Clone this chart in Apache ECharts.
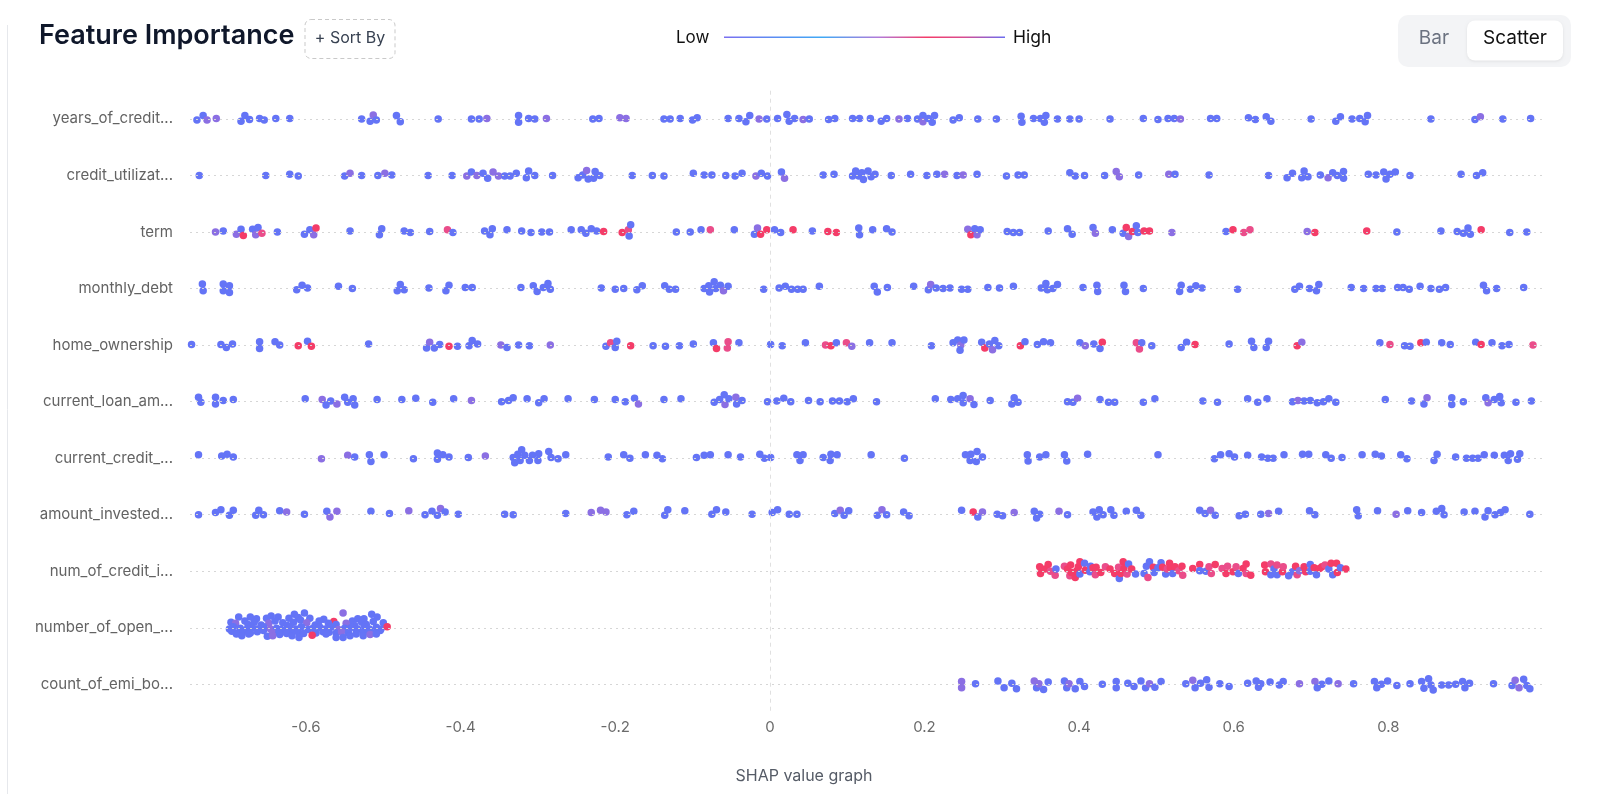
<!DOCTYPE html>
<html><head><meta charset="utf-8">
<script src="https://cdn.jsdelivr.net/npm/echarts@6/dist/echarts.min.js"></script>
<style>html,body{margin:0;padding:0;background:#fff;}#chart{width:1600px;height:794px;}</style>
</head><body><div id="chart"></div>
<script>
// Feature names as shown (truncated) on the y axis, top to bottom
const features = ['years_of_credit...','credit_utilizat...','term','monthly_debt','home_ownership','current_loan_am...','current_credit_...','amount_invested...','num_of_credit_i...','number_of_open_...','count_of_emi_bo...'];
const xTicks = [-0.6,-0.4,-0.2,0,0.2,0.4,0.6,0.8];
// each point: [SHAP value, vertical swarm offset (rows), feature level 0=low,1=mid,2=high-ish,3=high]
const yearsOfCredit = [[-0.741,0.02,0],[-0.733,-0.06,0],[-0.728,0.02,1],[-0.716,-0.01,1],[-0.684,0.04,0],[-0.679,-0.06,0],[-0.673,0.01,0],[-0.660,-0.01,0],[-0.654,0.02,0],[-0.639,-0.01,0],[-0.621,-0.01,0],[-0.528,0,0],[-0.517,0.04,0],[-0.513,-0.07,1],[-0.509,0.02,0],[-0.483,-0.06,0],[-0.478,0.05,0],[-0.429,0,0],[-0.386,0,0],[-0.376,0,0],[-0.366,-0.01,1],[-0.325,-0.06,0],[-0.325,0.06,0],[-0.312,-0.01,0],[-0.304,0,0],[-0.289,-0.01,1],[-0.229,0,0],[-0.221,-0.01,0],[-0.194,-0.02,1],[-0.186,-0.01,1],[-0.137,0,0],[-0.129,0,0],[-0.116,-0.01,0],[-0.100,0.02,0],[-0.094,-0.02,0],[-0.054,-0.01,0],[-0.040,-0.01,0],[-0.031,0.05,0],[-0.026,-0.06,0],[-0.014,0,1],[-0.004,0,0],[0.010,-0.01,0],[0.022,-0.08,0],[0.025,0.04,0],[0.032,-0.01,0],[0.043,0.01,1],[0.051,0,0],[0.076,0.01,0],[0.084,-0.01,0],[0.107,-0.01,0],[0.116,-0.01,0],[0.130,-0.01,0],[0.144,0.04,0],[0.151,-0.01,0],[0.167,0,1],[0.178,-0.01,0],[0.191,0,0],[0.198,-0.06,0],[0.198,0.05,1],[0.205,-0.01,0],[0.210,0.06,0],[0.213,-0.06,0],[0.237,0.02,0],[0.245,-0.02,0],[0.269,0,0],[0.293,0,0],[0.325,-0.05,0],[0.326,0.06,0],[0.341,-0.01,0],[0.350,-0.01,0],[0.355,0.06,0],[0.357,-0.06,0],[0.372,0,0],[0.388,0,0],[0.400,0,0],[0.440,0,0],[0.483,-0.01,0],[0.502,0.01,0],[0.515,-0.01,0],[0.523,-0.01,0],[0.531,0,1],[0.570,-0.01,0],[0.578,-0.01,0],[0.619,-0.02,0],[0.628,0.01,0],[0.642,-0.04,0],[0.648,0.04,0],[0.700,0,0],[0.732,0.04,0],[0.738,-0.04,0],[0.753,0,0],[0.763,-0.01,0],[0.770,0.05,0],[0.773,-0.06,0],[0.855,0,0],[0.912,0.01,0],[0.919,-0.04,1],[0.948,0,0],[0.984,-0.01,0]];
const creditUtilization = [[-0.738,0,0],[-0.652,0,0],[-0.621,-0.02,0],[-0.610,0.01,0],[-0.550,0.01,0],[-0.543,-0.04,1],[-0.528,0,0],[-0.507,0,0],[-0.498,-0.04,1],[-0.489,-0.01,0],[-0.442,0,0],[-0.411,0,0],[-0.392,0.01,1],[-0.386,-0.06,0],[-0.379,0,1],[-0.371,-0.04,0],[-0.365,0.05,0],[-0.358,-0.06,1],[-0.351,0.01,1],[-0.343,0.01,0],[-0.336,0.01,0],[-0.328,-0.04,0],[-0.315,0.04,0],[-0.312,-0.08,0],[-0.304,0,0],[-0.281,0,0],[-0.248,0.04,0],[-0.242,-0.01,0],[-0.237,-0.09,1],[-0.235,0.06,0],[-0.228,0.05,0],[-0.226,-0.07,0],[-0.220,0,0],[-0.178,0,0],[-0.152,0,0],[-0.137,0.01,0],[-0.099,-0.04,0],[-0.085,-0.01,0],[-0.075,-0.01,0],[-0.057,0,0],[-0.045,0.01,0],[-0.036,-0.04,0],[-0.018,0.01,1],[-0.011,-0.04,0],[-0.003,0.01,0],[0.015,-0.06,0],[0.019,0.05,1],[0.069,-0.01,0],[0.083,-0.02,0],[0.107,0.01,0],[0.111,-0.08,0],[0.115,0.01,0],[0.119,-0.05,0],[0.121,0.07,0],[0.127,-0.08,0],[0.131,0.02,0],[0.136,-0.02,0],[0.157,0,0],[0.182,-0.02,0],[0.203,0,0],[0.216,-0.02,0],[0.226,-0.02,1],[0.242,0,0],[0.250,-0.01,1],[0.268,-0.02,0],[0.306,0.01,0],[0.321,-0.01,0],[0.329,-0.01,0],[0.388,-0.05,0],[0.395,0.01,0],[0.407,0,0],[0.433,0,0],[0.448,-0.07,1],[0.452,0.02,1],[0.477,-0.01,0],[0.516,-0.02,1],[0.524,-0.02,0],[0.568,-0.01,0],[0.645,0,0],[0.669,0.04,0],[0.676,-0.04,0],[0.688,0.04,0],[0.691,-0.08,0],[0.696,0.02,0],[0.712,-0.01,0],[0.722,0.04,1],[0.728,-0.05,0],[0.734,0,0],[0.742,-0.07,0],[0.742,0.05,0],[0.774,-0.02,0],[0.784,-0.01,0],[0.794,-0.06,0],[0.797,0.06,0],[0.802,-0.02,0],[0.809,-0.06,0],[0.828,0,0],[0.894,-0.02,0],[0.914,0,0],[0.922,-0.05,0]];
const term = [[-0.717,0,1],[-0.707,-0.02,0],[-0.690,0.04,1],[-0.684,-0.05,0],[-0.681,0.06,3],[-0.669,-0.05,0],[-0.665,0.05,1],[-0.662,-0.08,0],[-0.657,0.02,2],[-0.637,0,0],[-0.602,0.04,0],[-0.595,-0.04,0],[-0.590,0.05,1],[-0.587,-0.07,3],[-0.543,-0.02,0],[-0.505,0.05,0],[-0.502,-0.06,0],[-0.473,-0.02,0],[-0.465,0.01,0],[-0.440,-0.01,0],[-0.417,-0.04,2],[-0.410,0.01,0],[-0.369,-0.02,0],[-0.362,0.05,0],[-0.359,-0.06,0],[-0.340,-0.04,0],[-0.321,-0.02,0],[-0.309,0.01,0],[-0.295,0,0],[-0.285,0,0],[-0.257,-0.04,0],[-0.244,-0.04,0],[-0.238,0.02,0],[-0.231,-0.06,0],[-0.224,-0.02,0],[-0.215,-0.01,3],[-0.191,0.01,3],[-0.183,-0.04,2],[-0.182,0.07,0],[-0.180,-0.13,0],[-0.121,0,0],[-0.103,0,0],[-0.089,-0.04,0],[-0.077,-0.04,2],[-0.046,-0.04,0],[-0.020,0.04,0],[-0.016,-0.07,1],[-0.012,0.04,3],[-0.004,-0.04,3],[0.006,-0.04,0],[0.014,0.01,0],[0.030,-0.04,3],[0.055,-0.02,0],[0.075,-0.01,3],[0.086,0.01,3],[0.115,-0.07,0],[0.116,0.05,0],[0.133,-0.04,0],[0.151,-0.06,0],[0.158,0,0],[0.256,-0.05,1],[0.260,0.05,3],[0.265,-0.06,0],[0.268,0.05,1],[0.272,-0.04,0],[0.307,-0.01,0],[0.315,0.01,0],[0.323,0.01,0],[0.360,-0.02,0],[0.385,-0.06,0],[0.391,0.04,0],[0.418,-0.08,0],[0.421,0.02,1],[0.443,-0.04,0],[0.457,0.02,0],[0.461,-0.08,3],[0.464,0.08,1],[0.469,-0.01,3],[0.474,-0.11,0],[0.476,0.01,0],[0.484,-0.02,3],[0.491,-0.02,3],[0.520,0.01,1],[0.590,-0.01,0],[0.599,-0.04,3],[0.613,0.01,2],[0.621,-0.04,2],[0.695,-0.01,1],[0.705,0.01,3],[0.772,-0.02,3],[0.811,0,0],[0.868,-0.02,0],[0.889,-0.01,0],[0.897,0.02,0],[0.903,-0.07,0],[0.906,0.04,0],[0.920,-0.04,3],[0.957,0.01,0],[0.979,0,0]];
const monthlyDebt = [[-0.734,-0.08,0],[-0.733,0.04,0],[-0.707,-0.08,0],[-0.707,0.04,0],[-0.699,-0.05,0],[-0.699,0.07,0],[-0.612,0.02,0],[-0.605,-0.06,0],[-0.598,-0.01,0],[-0.558,-0.04,0],[-0.540,0,0],[-0.482,0.04,0],[-0.478,-0.07,0],[-0.473,0.02,0],[-0.441,-0.01,0],[-0.419,0.04,0],[-0.415,-0.06,0],[-0.394,-0.02,0],[-0.385,-0.02,0],[-0.322,-0.02,0],[-0.306,-0.05,0],[-0.301,0.05,0],[-0.293,-0.02,0],[-0.287,-0.09,0],[-0.284,0.01,0],[-0.218,-0.01,0],[-0.200,0.01,0],[-0.189,0,0],[-0.172,0.02,0],[-0.165,-0.05,0],[-0.136,-0.05,0],[-0.130,0.01,0],[-0.122,0.01,0],[-0.085,0,0],[-0.079,-0.05,0],[-0.078,0.06,0],[-0.072,-0.12,0],[-0.070,0,0],[-0.064,-0.06,0],[-0.060,0.04,1],[-0.054,-0.04,0],[-0.008,0.01,0],[0.012,-0.01,0],[0.020,-0.04,0],[0.028,0.01,0],[0.036,0.01,0],[0.043,0.01,0],[0.064,-0.04,0],[0.135,-0.04,0],[0.139,0.06,0],[0.152,-0.02,0],[0.186,-0.04,0],[0.205,0.02,0],[0.208,-0.07,1],[0.215,-0.01,0],[0.224,0,0],[0.233,-0.01,0],[0.248,0.01,0],[0.256,0.01,0],[0.282,-0.02,0],[0.297,-0.01,0],[0.315,-0.04,0],[0.351,-0.01,0],[0.357,-0.09,0],[0.359,0.02,0],[0.366,0,0],[0.372,-0.07,0],[0.405,-0.02,0],[0.423,-0.06,0],[0.424,0.05,0],[0.458,-0.06,0],[0.460,0.05,0],[0.483,0,0],[0.530,0.05,0],[0.532,-0.06,0],[0.544,0.01,0],[0.551,-0.05,0],[0.559,-0.01,0],[0.605,0.01,0],[0.679,0.01,0],[0.685,-0.04,0],[0.698,0,0],[0.707,0.04,0],[0.710,-0.07,0],[0.752,-0.02,0],[0.768,0,0],[0.784,0,0],[0.792,0,0],[0.812,-0.02,0],[0.819,-0.02,0],[0.827,0.01,0],[0.841,-0.04,0],[0.855,0,0],[0.866,0.01,0],[0.874,-0.02,0],[0.923,-0.06,0],[0.927,0.04,0],[0.940,0,0],[0.975,-0.02,0]];
const homeOwnership = [[-0.748,-0.01,0],[-0.710,-0.01,0],[-0.703,0.04,0],[-0.695,-0.02,0],[-0.660,-0.06,0],[-0.660,0.06,0],[-0.640,-0.06,0],[-0.634,0,0],[-0.610,0.01,3],[-0.598,-0.07,0],[-0.593,0.02,3],[-0.519,-0.02,0],[-0.444,0.05,0],[-0.440,-0.05,1],[-0.434,0.05,0],[-0.427,-0.01,0],[-0.415,0.02,3],[-0.404,0.02,0],[-0.389,0.01,0],[-0.385,-0.08,0],[-0.378,-0.02,0],[-0.348,0,1],[-0.340,0.04,0],[-0.325,0,0],[-0.311,0.01,0],[-0.284,0,1],[-0.212,0.02,0],[-0.206,-0.04,2],[-0.198,-0.07,0],[-0.200,0.04,0],[-0.180,0.01,3],[-0.151,0.01,0],[-0.135,0.02,0],[-0.117,0.01,0],[-0.099,-0.02,0],[-0.073,-0.04,0],[-0.069,0.06,3],[-0.055,0.05,2],[-0.054,-0.06,2],[-0.040,-0.04,0],[0.001,-0.01,0],[0.016,0.01,0],[0.046,-0.04,0],[0.072,0,2],[0.079,0.01,3],[0.086,-0.04,0],[0.099,-0.04,2],[0.106,0.02,1],[0.129,-0.04,0],[0.158,-0.04,0],[0.209,0.01,0],[0.237,-0.04,0],[0.243,-0.09,0],[0.247,0,1],[0.246,0.09,0],[0.251,-0.09,0],[0.274,-0.05,0],[0.278,0.05,3],[0.284,-0.02,0],[0.288,0.08,1],[0.291,-0.08,0],[0.296,0.01,0],[0.324,0.01,3],[0.330,-0.06,0],[0.346,-0.01,0],[0.354,-0.06,0],[0.363,-0.04,0],[0.401,-0.04,0],[0.408,0.01,1],[0.419,-0.02,0],[0.427,0.06,0],[0.430,-0.05,3],[0.474,-0.04,2],[0.478,0.07,2],[0.481,-0.04,0],[0.494,0.01,0],[0.532,0.04,0],[0.539,-0.05,0],[0.550,-0.01,3],[0.594,-0.02,0],[0.623,-0.07,0],[0.626,0.04,0],[0.642,0.04,0],[0.645,-0.07,0],[0.682,0.01,3],[0.688,-0.05,1],[0.789,-0.04,0],[0.802,-0.01,2],[0.821,0.01,0],[0.828,0.02,0],[0.842,-0.04,3],[0.849,-0.05,0],[0.869,-0.04,0],[0.880,-0.01,0],[0.913,-0.05,0],[0.920,-0.01,3],[0.934,-0.04,0],[0.947,0.01,0],[0.956,-0.01,0],[0.987,0,2]];
const currentLoanAmount = [[-0.739,-0.08,0],[-0.736,0.01,0],[-0.717,-0.08,0],[-0.717,0.04,0],[-0.707,-0.02,0],[-0.694,-0.04,0],[-0.601,-0.05,0],[-0.579,-0.04,1],[-0.574,0.06,0],[-0.568,-0.01,0],[-0.560,0.04,1],[-0.550,-0.08,0],[-0.546,0.01,0],[-0.539,-0.05,0],[-0.537,0.06,0],[-0.508,-0.04,0],[-0.476,-0.04,0],[-0.458,-0.06,0],[-0.436,0.01,0],[-0.409,-0.05,0],[-0.386,-0.02,1],[-0.347,0,0],[-0.338,-0.02,0],[-0.332,-0.07,0],[-0.314,-0.05,0],[-0.299,0.02,0],[-0.292,-0.05,0],[-0.261,-0.05,0],[-0.227,-0.04,0],[-0.200,-0.04,0],[-0.187,0,0],[-0.175,-0.06,0],[-0.170,0.04,1],[-0.137,-0.04,0],[-0.115,-0.05,0],[-0.072,0.01,0],[-0.065,-0.04,0],[-0.059,-0.12,0],[-0.058,0.05,1],[-0.053,-0.05,0],[-0.044,-0.08,1],[-0.043,0.04,0],[-0.036,-0.02,0],[-0.003,0,0],[0.009,-0.01,0],[0.018,-0.06,0],[0.027,0,0],[0.050,-0.02,0],[0.065,0,0],[0.081,-0.01,0],[0.090,-0.01,0],[0.100,0,0],[0.108,-0.05,0],[0.138,0,0],[0.214,-0.05,0],[0.234,-0.04,0],[0.243,-0.05,0],[0.250,-0.11,0],[0.250,0.02,0],[0.259,-0.05,1],[0.264,0.05,0],[0.285,-0.02,0],[0.316,-0.07,0],[0.313,0.04,0],[0.321,0.01,0],[0.385,0,0],[0.392,0.01,0],[0.398,-0.06,1],[0.427,-0.04,0],[0.438,0.01,0],[0.446,0.01,0],[0.483,0.01,0],[0.498,-0.05,0],[0.560,-0.01,0],[0.579,0.01,0],[0.618,-0.05,0],[0.631,0.01,0],[0.643,-0.05,0],[0.676,0,0],[0.683,-0.02,1],[0.691,-0.01,0],[0.699,-0.02,0],[0.708,0.02,0],[0.716,0,0],[0.723,-0.05,0],[0.732,0.01,0],[0.796,-0.04,0],[0.830,-0.01,0],[0.846,0.04,0],[0.850,-0.07,1],[0.882,-0.07,0],[0.882,0.05,0],[0.897,0,0],[0.926,-0.07,0],[0.929,0.02,1],[0.937,-0.04,0],[0.944,-0.09,0],[0.946,0.02,0],[0.965,0.01,0],[0.985,-0.01,0]];
const currentCreditBalance = [[-0.739,-0.06,0],[-0.709,-0.04,0],[-0.702,-0.07,0],[-0.694,-0.02,0],[-0.580,0.01,1],[-0.546,-0.05,1],[-0.537,-0.02,0],[-0.518,-0.06,0],[-0.516,0.06,0],[-0.499,-0.06,0],[-0.461,0.01,0],[-0.430,-0.09,0],[-0.430,0.02,0],[-0.423,-0.06,0],[-0.415,-0.02,0],[-0.390,-0.01,0],[-0.368,-0.04,1],[-0.332,-0.01,0],[-0.330,0.08,0],[-0.326,-0.07,0],[-0.323,0.04,0],[-0.321,-0.15,0],[-0.317,-0.05,0],[-0.311,0.04,0],[-0.307,-0.05,0],[-0.300,0.04,0],[-0.299,-0.08,0],[-0.286,-0.12,0],[-0.283,-0.01,0],[-0.274,0.01,0],[-0.264,-0.06,0],[-0.209,-0.02,0],[-0.189,-0.06,0],[-0.181,0,0],[-0.161,-0.06,0],[-0.146,-0.05,0],[-0.139,0.01,0],[-0.095,-0.01,0],[-0.085,-0.05,0],[-0.077,-0.06,0],[-0.054,-0.06,0],[-0.038,-0.02,0],[-0.013,-0.07,0],[-0.007,0,0],[0.001,-0.01,0],[0.035,-0.06,0],[0.039,0.04,0],[0.043,-0.06,0],[0.069,-0.01,0],[0.078,0.04,0],[0.079,-0.07,0],[0.087,-0.06,0],[0.131,-0.06,0],[0.174,0,0],[0.253,-0.06,0],[0.260,-0.07,0],[0.259,0.04,0],[0.267,0.06,0],[0.268,-0.12,0],[0.275,-0.02,0],[0.333,-0.06,0],[0.334,0.05,0],[0.349,-0.02,0],[0.357,-0.06,0],[0.381,-0.06,0],[0.384,0.05,0],[0.411,-0.07,0],[0.502,-0.06,0],[0.575,0.01,0],[0.583,-0.06,0],[0.594,-0.08,0],[0.601,-0.02,0],[0.618,-0.05,0],[0.636,-0.02,0],[0.644,0,0],[0.651,0,0],[0.665,-0.06,0],[0.689,-0.07,0],[0.697,-0.07,0],[0.719,-0.06,0],[0.726,0,0],[0.740,-0.01,0],[0.766,-0.06,0],[0.783,-0.07,0],[0.791,-0.04,0],[0.816,-0.06,0],[0.824,0.01,0],[0.859,0.04,0],[0.863,-0.07,0],[0.887,-0.02,0],[0.901,0,0],[0.909,0,0],[0.916,0,0],[0.924,-0.06,0],[0.937,-0.05,0],[0.950,-0.05,0],[0.955,0.04,0],[0.958,-0.08,0],[0.967,0.02,0],[0.970,-0.08,0]];
const amountInvested = [[-0.739,0,0],[-0.717,-0.04,0],[-0.710,-0.09,0],[-0.699,0.01,0],[-0.694,-0.08,0],[-0.665,0.01,0],[-0.661,-0.08,0],[-0.655,0,0],[-0.634,-0.07,0],[-0.625,-0.05,1],[-0.602,-0.01,0],[-0.573,-0.06,0],[-0.569,0.04,1],[-0.560,-0.06,1],[-0.516,-0.06,0],[-0.492,-0.02,0],[-0.467,-0.07,1],[-0.446,0,0],[-0.437,-0.06,0],[-0.430,0.01,0],[-0.426,-0.11,1],[-0.420,-0.05,0],[-0.403,-0.01,0],[-0.343,-0.01,0],[-0.332,0,0],[-0.264,-0.02,0],[-0.231,-0.04,1],[-0.219,-0.08,1],[-0.212,-0.05,1],[-0.185,0,0],[-0.176,-0.06,0],[-0.136,0.01,0],[-0.132,-0.09,0],[-0.110,-0.07,0],[-0.075,-0.01,0],[-0.069,-0.09,0],[-0.057,-0.05,0],[-0.023,-0.01,0],[0.003,-0.04,0],[0.010,-0.09,0],[0.025,-0.01,0],[0.035,-0.01,0],[0.084,-0.02,0],[0.091,-0.08,1],[0.096,0.01,0],[0.102,-0.07,0],[0.139,0.01,0],[0.145,-0.09,1],[0.151,0,0],[0.173,-0.05,0],[0.180,0.02,0],[0.248,-0.08,0],[0.263,-0.05,3],[0.269,0.04,0],[0.275,-0.05,1],[0.294,-0.01,0],[0.301,0.02,0],[0.316,-0.04,1],[0.342,-0.06,0],[0.345,0.06,0],[0.349,-0.01,0],[0.374,-0.06,1],[0.385,0,0],[0.418,-0.05,0],[0.423,0.04,0],[0.426,-0.09,0],[0.431,0,0],[0.441,-0.09,0],[0.445,0.01,0],[0.461,-0.06,0],[0.474,-0.08,0],[0.480,0.01,0],[0.556,-0.08,0],[0.563,-0.02,0],[0.570,-0.08,1],[0.576,0.01,0],[0.607,0.02,0],[0.615,-0.01,0],[0.635,-0.01,0],[0.645,-0.02,1],[0.658,-0.06,0],[0.698,-0.07,0],[0.705,0,0],[0.759,-0.09,0],[0.761,0.02,0],[0.786,-0.07,0],[0.810,-0.01,1],[0.825,-0.07,0],[0.843,-0.04,0],[0.862,-0.06,0],[0.869,-0.11,0],[0.872,0,0],[0.898,-0.05,0],[0.912,-0.06,0],[0.925,0.04,0],[0.929,-0.07,0],[0.938,0,0],[0.945,-0.04,0],[0.951,-0.09,0],[0.983,-0.01,0]];
const numOfCreditInquiries = [[0.349,-0.08,3],[0.350,0.04,3],[0.356,-0.04,3],[0.360,-0.12,3],[0.363,0,2],[0.369,0.07,2],[0.370,-0.04,0],[0.381,-0.09,2],[0.385,-0.04,3],[0.388,0.08,2],[0.389,-0.11,3],[0.390,0.02,3],[0.395,0.11,3],[0.397,-0.01,3],[0.399,-0.08,3],[0.401,-0.17,3],[0.401,0.05,0],[0.407,-0.14,0],[0.408,-0.02,3],[0.414,0.01,0],[0.415,-0.09,0],[0.418,-0.06,3],[0.421,0.06,2],[0.422,-0.07,3],[0.428,0.02,3],[0.434,-0.08,2],[0.440,-0.04,3],[0.446,0.04,3],[0.451,-0.07,2],[0.452,0.13,0],[0.454,0.04,3],[0.457,-0.17,3],[0.458,-0.05,3],[0.462,0.05,2],[0.464,-0.13,0],[0.468,-0.04,3],[0.473,0.05,0],[0.484,0.04,0],[0.487,-0.09,0],[0.489,0.11,2],[0.491,-0.17,0],[0.496,-0.07,3],[0.497,0.02,0],[0.502,-0.06,0],[0.506,-0.15,0],[0.508,-0.07,3],[0.512,0.05,0],[0.514,-0.04,2],[0.517,-0.14,3],[0.518,-0.06,3],[0.521,0.04,0],[0.524,-0.08,3],[0.529,-0.01,2],[0.533,-0.09,3],[0.534,0.07,2],[0.547,-0.05,3],[0.556,-0.12,3],[0.556,-0.01,0],[0.564,0,0],[0.568,-0.08,2],[0.571,0.04,2],[0.576,-0.12,3],[0.585,-0.05,2],[0.590,0.04,3],[0.592,-0.09,2],[0.599,0.01,3],[0.603,-0.08,2],[0.606,0.04,0],[0.612,-0.05,3],[0.616,-0.13,3],[0.616,0.04,2],[0.622,0.07,3],[0.640,-0.11,3],[0.641,0.01,3],[0.648,-0.13,2],[0.648,0.06,0],[0.652,-0.04,0],[0.656,-0.11,2],[0.656,0.06,0],[0.663,0.01,3],[0.664,-0.08,2],[0.671,0.08,0],[0.676,0.01,0],[0.680,-0.09,3],[0.682,0.06,2],[0.685,-0.01,1],[0.691,-0.08,3],[0.693,0.01,3],[0.699,-0.12,0],[0.699,0,0],[0.704,-0.06,3],[0.707,0.06,0],[0.711,-0.05,3],[0.714,-0.08,3],[0.718,-0.11,2],[0.723,-0.04,0],[0.726,-0.14,3],[0.728,0.06,0],[0.733,-0.14,3],[0.734,0.02,3],[0.738,-0.06,0],[0.745,-0.04,3]];
const numberOfOpenAccounts = [[-0.687,-0.19,0],[-0.672,-0.19,0],[-0.664,-0.16,0],[-0.651,-0.17,0],[-0.645,-0.21,0],[-0.636,-0.19,0],[-0.622,-0.17,0],[-0.615,-0.24,0],[-0.610,-0.18,0],[-0.602,-0.26,0],[-0.595,-0.17,0],[-0.577,-0.15,0],[-0.564,-0.11,3],[-0.552,-0.26,1],[-0.540,-0.12,0],[-0.533,-0.16,0],[-0.525,-0.16,0],[-0.515,-0.24,0],[-0.508,-0.19,0],[-0.697,-0.1,0],[-0.691,-0.08,1],[-0.679,-0.12,0],[-0.675,-0.06,0],[-0.667,-0.1,0],[-0.658,-0.05,0],[-0.648,-0.08,1],[-0.640,-0.12,0],[-0.630,-0.09,0],[-0.624,-0.04,0],[-0.616,-0.1,0],[-0.607,-0.14,0],[-0.599,-0.09,1],[-0.588,-0.05,0],[-0.583,-0.12,0],[-0.571,-0.08,0],[-0.561,-0.06,0],[-0.548,-0.08,1],[-0.537,-0.04,0],[-0.528,-0.1,0],[-0.522,-0.06,0],[-0.513,-0.11,0],[-0.500,-0.09,0],[-0.699,0.02,0],[-0.694,-0.02,0],[-0.685,0.01,0],[-0.677,0.03,0],[-0.671,-0.01,0],[-0.664,0.02,0],[-0.655,-0.02,0],[-0.646,0.02,1],[-0.638,0.01,0],[-0.632,0.03,0],[-0.621,-0.01,0],[-0.613,0.02,0],[-0.606,-0.02,0],[-0.597,0.03,0],[-0.591,0.01,0],[-0.582,-0.01,0],[-0.575,0.02,0],[-0.567,-0.02,0],[-0.558,0.03,1],[-0.550,0.01,0],[-0.541,-0.01,0],[-0.533,0.02,0],[-0.524,-0.02,0],[-0.518,0.02,0],[-0.509,-0.01,0],[-0.503,0.02,0],[-0.495,-0.02,3],[-0.696,0.06,0],[-0.689,0.09,0],[-0.681,0.06,0],[-0.672,0.09,0],[-0.663,0.07,0],[-0.655,0.05,0],[-0.643,0.09,1],[-0.635,0.08,0],[-0.626,0.05,0],[-0.618,0.09,0],[-0.610,0.07,0],[-0.603,0.1,0],[-0.587,0.09,0],[-0.578,0.07,0],[-0.570,0.08,0],[-0.561,0.09,0],[-0.554,0.07,1],[-0.545,0.09,0],[-0.535,0.05,0],[-0.526,0.08,0],[-0.519,0.07,0],[-0.511,0.09,0],[-0.504,0.05,0],[-0.690,0.11,0],[-0.683,0.14,0],[-0.674,0.11,0],[-0.650,0.15,0],[-0.643,0.14,1],[-0.634,0.12,0],[-0.625,0.1,0],[-0.618,0.14,0],[-0.609,0.17,0],[-0.592,0.13,3],[-0.574,0.11,0],[-0.561,0.17,0],[-0.552,0.17,0],[-0.543,0.14,0],[-0.535,0.11,0],[-0.526,0.14,0],[-0.517,0.12,1],[-0.509,0.11,0]];
const countOfEmiBounces = [[0.248,-0.05,1],[0.248,0.06,1],[0.266,-0.01,0],[0.295,-0.06,0],[0.303,0.06,0],[0.313,-0.02,0],[0.319,0.08,0],[0.342,-0.06,1],[0.345,0.06,0],[0.348,-0.01,1],[0.354,0.09,0],[0.360,-0.04,0],[0.381,-0.06,0],[0.384,0.06,0],[0.387,-0.01,1],[0.395,0.08,0],[0.401,-0.05,0],[0.407,0.04,0],[0.430,0,0],[0.448,-0.05,0],[0.448,0.06,0],[0.463,-0.02,0],[0.471,0.04,0],[0.480,-0.06,0],[0.486,0.06,0],[0.491,-0.01,1],[0.498,0.05,0],[0.506,-0.05,0],[0.538,-0.01,0],[0.547,-0.07,1],[0.550,0.06,0],[0.557,-0.02,0],[0.565,-0.08,0],[0.568,0.05,0],[0.582,-0.01,0],[0.594,0.04,0],[0.618,-0.02,0],[0.629,-0.06,0],[0.632,0.05,0],[0.635,-0.01,0],[0.647,-0.04,0],[0.659,0.01,0],[0.664,-0.05,0],[0.685,-0.01,1],[0.705,-0.05,1],[0.708,0.06,0],[0.714,0,0],[0.723,-0.06,0],[0.735,-0.01,1],[0.755,-0.01,0],[0.782,-0.05,0],[0.785,0.06,0],[0.791,0,0],[0.799,-0.06,0],[0.811,0.02,0],[0.828,-0.01,0],[0.843,-0.05,0],[0.846,0.07,0],[0.852,-0.1,0],[0.855,0.01,0],[0.858,0.1,0],[0.869,0.01,0],[0.878,0.01,0],[0.887,0,0],[0.896,-0.05,0],[0.899,0.06,0],[0.905,-0.02,0],[0.936,-0.01,0],[0.960,0.02,0],[0.964,-0.07,1],[0.969,0.06,1],[0.975,-0.09,0],[0.979,0.02,0],[0.983,0.08,0]];

const rows = [yearsOfCredit, creditUtilization, term, monthlyDebt, homeOwnership, currentLoanAmount, currentCreditBalance, amountInvested, numOfCreditInquiries, numberOfOpenAccounts, countOfEmiBounces];
const levelColors = ['#6474f6', '#8b6fe3', '#ea4d8a', '#f43c68'];

const points = [];
rows.forEach((row, i) => row.forEach(p => points.push([p[0], i + p[1], p[2]])));

const chart = echarts.init(document.getElementById('chart'), null, {renderer: 'canvas'});
const FONT = 'Inter, "Noto Sans", sans-serif';
chart.setOption({
  animation: false,
  backgroundColor: '#ffffff',
  textStyle: {fontFamily: FONT},
  grid: {left: 190, right: 57, top: 90.7, bottom: 81.4},
  xAxis: {
    type: 'value', min: -0.75, max: 1,
    axisLine: {show: false, onZero: false}, axisTick: {show: false}, splitLine: {show: false},
    axisLabel: {customValues: xTicks, color: '#6b6b6b', fontSize: 15, margin: 7, fontFamily: FONT}
  },
  yAxis: [
    {
      type: 'category', data: features, inverse: true, boundaryGap: true,
      axisLine: {show: false, onZero: false}, axisTick: {show: false}, splitLine: {show: false},
      axisLabel: {color: '#636363', fontSize: 15, margin: 17, fontFamily: FONT}
    },
    {type: 'value', min: -0.5, max: 10.5, inverse: true, show: false, axisLine: {onZero: false}, splitLine: {show: false}}
  ],
  series: [
    {
      type: 'scatter', yAxisIndex: 1, data: [], silent: true, z: 1,
      markLine: {
        silent: true, symbol: ['none', 'none'], label: {show: false}, animation: false,
        data: features.map((f, i) => ({yAxis: i, lineStyle: {color: '#d6d6d6', type: [2, 4], width: 1}}))
          .concat([{xAxis: 0, lineStyle: {color: '#e0e0e0', type: [4, 4], width: 1}}])
      }
    },
    {
      type: 'scatter', yAxisIndex: 1, z: 3, symbol: 'circle', symbolSize: 7.5, data: points,
      itemStyle: {color: p => levelColors[p.value[2]], opacity: 1, borderWidth: 0, borderColor: 'transparent'}
    }
  ],
  graphic: [
    {type: 'line', shape: {x1: 7.5, y1: 25, x2: 7.5, y2: 794}, style: {stroke: '#e6e8ec', lineWidth: 1}, silent: true},
    {type: 'text', x: 39, y: 36, style: {text: 'Feature Importance', font: '600 27px ' + FONT, fill: '#0f172a', textVerticalAlign: 'middle'}},
    {type: 'rect', shape: {x: 305, y: 19.5, width: 90, height: 39, r: 6}, style: {fill: '#ffffff', stroke: '#c9c9c9', lineWidth: 1, lineDash: [4, 3]}},
    {type: 'text', x: 350, y: 38, style: {text: '+ Sort By', font: '16px ' + FONT, fill: '#374151', textAlign: 'center', textVerticalAlign: 'middle'}},
    {type: 'text', x: 676, y: 38, style: {text: 'Low', font: '17px ' + FONT, fill: '#111111', textVerticalAlign: 'middle'}},
    {type: 'rect', shape: {x: 724, y: 36.5, width: 281, height: 1.5}, style: {fill: new echarts.graphic.LinearGradient(0, 0, 1, 0, [
      {offset: 0, color: '#7a6ff0'}, {offset: 0.35, color: '#3fa9f5'}, {offset: 0.55, color: '#b27ad9'},
      {offset: 0.72, color: '#f43c68'}, {offset: 0.85, color: '#d94c8f'}, {offset: 1, color: '#6a6cf0'}])}},
    {type: 'text', x: 1013, y: 38, style: {text: 'High', font: '17.5px ' + FONT, fill: '#111111', textVerticalAlign: 'middle'}},
    {type: 'rect', shape: {x: 1398, y: 15, width: 173, height: 52, r: 10}, style: {fill: '#f3f4f6'}},
    {type: 'rect', shape: {x: 1467, y: 20.5, width: 96, height: 40, r: 8}, style: {fill: '#ffffff', shadowBlur: 3, shadowColor: 'rgba(0,0,0,0.08)', shadowOffsetY: 1}},
    {type: 'text', x: 1434, y: 38, style: {text: 'Bar', font: '19px ' + FONT, fill: '#6b7280', textAlign: 'center', textVerticalAlign: 'middle'}},
    {type: 'text', x: 1515, y: 38, style: {text: 'Scatter', font: '19px ' + FONT, fill: '#111111', textAlign: 'center', textVerticalAlign: 'middle'}},
    {type: 'text', x: 804, y: 776, style: {text: 'SHAP value graph', font: '16px ' + FONT, fill: '#555b66', textAlign: 'center', textVerticalAlign: 'middle'}}
  ]
});
</script></body></html>
